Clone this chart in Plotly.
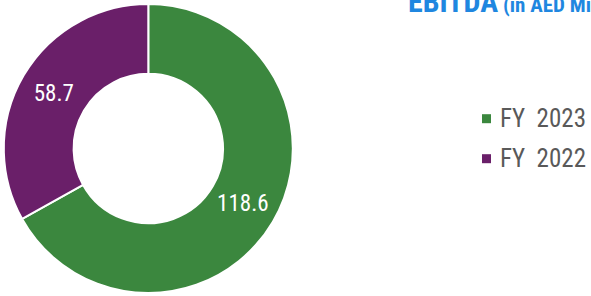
import plotly.graph_objects as go

labels = ["FY  2023", "FY  2022"]
values = [118.6, 58.7]
colors = ["#3B873E", "#6A1F69"]
title_main = "EBITDA"
title_sub = " (in AED Million)"

W, H = 591, 296
NARROW = "Roboto Condensed, Liberation Sans Narrow, Arial Narrow, sans-serif"

fig = go.Figure()
fig.add_trace(go.Pie(
    labels=labels,
    values=values,
    marker=dict(colors=colors, line=dict(color="white", width=2)),
    hole=0.517,
    sort=False,
    direction="clockwise",
    rotation=0,
    texttemplate="%{value}",
    textposition="inside",
    insidetextorientation="horizontal",
    textfont=dict(family=NARROW, size=23, color="white"),
    domain=dict(x=[3.8 / W, 292.8 / W], y=[1 - 293 / H, 1 - 4 / H]),
    showlegend=False,
    hoverinfo="label+value",
))

# manual legend built from the labels / colours
y0 = 118.7
gap = 40
for i, (lab, col) in enumerate(zip(labels, colors)):
    yc = y0 + i * gap
    fig.add_shape(type="rect", xref="paper", yref="paper",
                  x0=482 / W, x1=491 / W, y0=1 - (yc + 4.5) / H, y1=1 - (yc - 4.5) / H,
                  fillcolor=col, line=dict(width=0))
    fig.add_annotation(x=498 / W, y=1 - yc / H, xref="paper", yref="paper",
                       xanchor="left", yanchor="middle", showarrow=False,
                       text=lab, font=dict(family=NARROW, size=25, color="#595959"))

fig.add_annotation(x=406 / W, y=1 - 21.5 / H, xref="paper", yref="paper",
                   xanchor="left", yanchor="bottom", showarrow=False,
                   text=f"<b>{title_main}</b><b><span style='font-size:21px'>{title_sub}</span></b>",
                   font=dict(family=NARROW, size=30, color="#1F87E0"))

fig.update_layout(width=W, height=H, margin=dict(l=0, r=0, t=0, b=0),
                  paper_bgcolor="white", plot_bgcolor="white")
fig.write_html("out.html", config={"displayModeBar": False},
               post_script="document.body.style.margin='0';")
